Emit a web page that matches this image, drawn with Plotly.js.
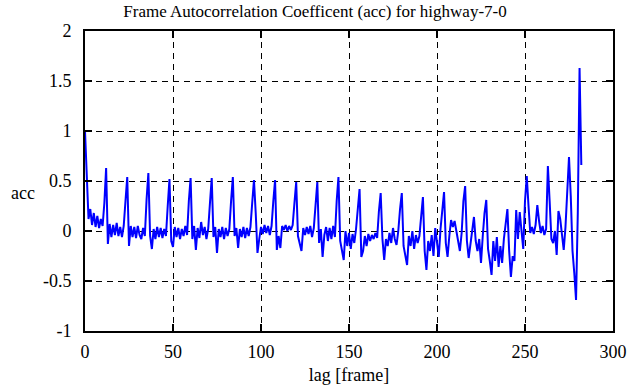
<!DOCTYPE html>
<html>
<head>
<meta charset="utf-8">
<script src="https://cdn.plot.ly/plotly-3.0.1.min.js"></script>
<style>html,body{margin:0;padding:0;background:#fff;}#chart{width:630px;height:387px;}</style>
</head>
<body>
<div id="chart"></div>
<script>
// Autocorrelation coefficient per lag (lag = index, 0..282)
const acc = [
  1.00, 0.62, 0.12, 0.22, 0.06, 0.18, 0.04, 0.15, 0.03, 0.12, 0.05, 0.28,
  0.63, -0.13, 0.07, -0.06, 0.06, -0.04, 0.08, -0.05, 0.04, -0.06, 0.05, 0.30,
  0.54, -0.15, 0.05, -0.06, 0.04, -0.07, 0.05, -0.04, -0.08, 0.03, -0.05, 0.32,
  0.58, -0.05, -0.18, 0.02, -0.08, 0.04, -0.06, 0.03, -0.07, 0.02, -0.05, 0.25,
  0.52, -0.10, -0.16, 0.04, -0.06, 0.03, -0.08, 0.02, -0.05, 0.05, -0.04, 0.30,
  0.53, -0.08, 0.05, -0.19, 0.03, -0.07, 0.09, -0.04, 0.04, -0.08, 0.02, 0.28,
  0.53, -0.06, 0.04, -0.22, 0.02, -0.06, 0.04, -0.08, 0.03, -0.05, 0.02, 0.30,
  0.54, -0.05, 0.03, -0.17, 0.02, -0.06, 0.04, -0.07, 0.03, -0.05, 0.04, 0.28,
  0.51, 0.18, -0.22, -0.08, 0.04, -0.03, 0.06, -0.02, 0.05, -0.04, 0.05, 0.30,
  0.51, -0.19, -0.05, -0.17, 0.05, 0.01, 0.06, 0.00, 0.05, 0.01, 0.06, 0.28,
  0.49, -0.05, -0.12, -0.20, 0.03, -0.04, 0.04, -0.03, 0.05, -0.06, 0.03, 0.27,
  0.49, -0.12, 0.02, -0.26, -0.04, 0.04, -0.10, 0.03, -0.08, 0.05, -0.06, 0.30,
  0.54, -0.10, -0.22, -0.29, 0.00, -0.15, -0.02, -0.18, -0.03, -0.12, 0.02, 0.25,
  0.42, -0.26, -0.20, -0.05, -0.15, -0.03, -0.10, -0.04, -0.08, -0.02, -0.07, 0.20,
  0.38, -0.08, -0.29, -0.08, -0.15, -0.02, -0.12, 0.03, -0.08, -0.14, 0.00, 0.22,
  0.38, -0.15, -0.24, -0.34, -0.05, -0.15, 0.00, -0.18, -0.04, -0.12, -0.05, 0.18,
  0.34, -0.20, -0.39, -0.10, -0.20, -0.04, -0.25, 0.03, -0.15, -0.26, 0.02, 0.25,
  0.39, -0.12, -0.26, -0.05, 0.11, 0.04, 0.10, 0.00, -0.10, -0.20, -0.02, 0.30,
  0.45, -0.10, -0.27, -0.12, -0.02, 0.14, -0.10, -0.20, -0.08, -0.32, -0.05, 0.18,
  0.31, -0.18, -0.30, -0.44, -0.10, -0.30, -0.06, -0.36, -0.15, -0.32, -0.08, 0.05,
  0.22, -0.20, -0.46, -0.25, -0.30, 0.21, -0.08, 0.19, -0.02, -0.18, 0.30, 0.55,
  0.25, -0.02, 0.04, -0.03, 0.06, 0.26, 0.10, -0.02, 0.05, -0.04, 0.02, 0.65,
  0.30, -0.08, -0.12, 0.00, -0.24, 0.20, 0.12, -0.05, -0.19, 0.04, 0.45, 0.74,
  0.35, -0.20, -0.42, -0.69, 0.18, 1.63, 0.66
];
const lags = acc.map((_, i) => i);

const xTickVals = [0, 50, 100, 150, 200, 250, 300];
const xTickText = ['0', '50', '100', '150', '200', '250', '300'];
const yTickVals = [-1, -0.5, 0, 0.5, 1, 1.5, 2];
const yTickText = ['-1', '-0.5', '0', '0.5', '1', '1.5', '2'];

const FONT = 'Liberation Serif';

const trace = {
  x: lags, y: acc, type: 'scatter', mode: 'lines',
  line: {color: '#0000ff', width: 2}, hoverinfo: 'skip'
};

function axis(extra) {
  return Object.assign({
    showline: true, linecolor: '#000', linewidth: 2, mirror: 'ticks',
    ticks: 'inside', ticklen: 7, tickwidth: 1.5, tickcolor: '#000',
    showgrid: true, gridcolor: '#000', gridwidth: 1, griddash: '6px,5px',
    zeroline: false,
    tickfont: {family: FONT, size: 18, color: '#000'}
  }, extra);
}

const layout = {
  width: 630, height: 387,
  font: {family: FONT, size: 18, color: '#000'},
  margin: {l: 85, r: 17, t: 31, b: 56, pad: 0},
  paper_bgcolor: '#fff', plot_bgcolor: '#fff',
  showlegend: false,
  title: {text: 'Frame Autocorrelation Coefficent (acc) for highway-7-0',
    font: {family: FONT, size: 17, color: '#000'},
    x: 0.5, xref: 'container', xanchor: 'center', y: 1 - 11/387, yref: 'container', yanchor: 'middle'},
  xaxis: axis({
    range: [0, 300], tickvals: xTickVals, ticktext: xTickText,
    ticklabelstandoff: 3,
    title: {text: 'lag [frame]', font: {family: FONT, size: 18, color: '#000'}, standoff: 8}
  }),
  yaxis: axis({
    range: [-1, 2], tickvals: yTickVals, ticktext: yTickText,
    ticklabelstandoff: 8
  }),
  annotations: [{
    text: 'acc', xref: 'paper', yref: 'paper',
    x: (23 - 85) / 528, y: (331 - 193) / 300,
    xanchor: 'center', yanchor: 'middle', showarrow: false,
    font: {family: FONT, size: 18, color: '#000'}
  }]
};

Plotly.newPlot('chart', [trace], layout, {displayModeBar: false, staticPlot: true});
</script>
</body>
</html>
